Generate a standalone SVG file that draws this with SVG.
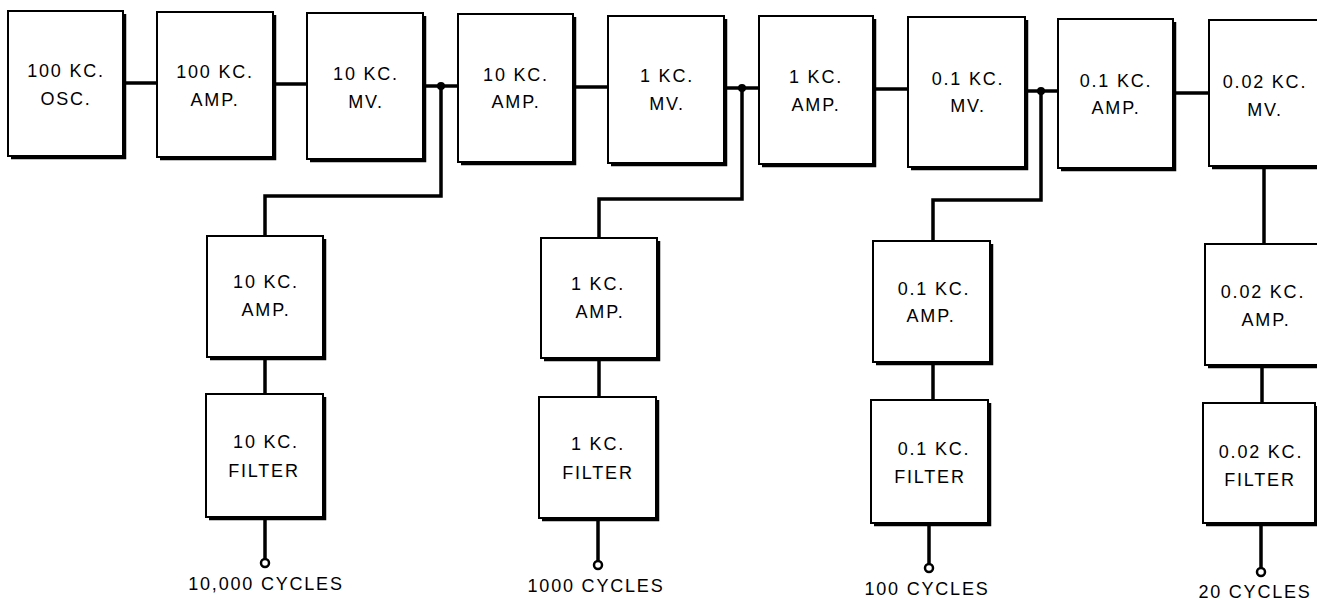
<svg xmlns="http://www.w3.org/2000/svg" width="1317" height="600" viewBox="0 0 1317 600">
<style>
.box{fill:#fff;stroke:#000;stroke-width:2}
.sh{fill:none;stroke:#000;stroke-width:3.5}
.t{font-family:"Liberation Sans",Arial,sans-serif;font-size:18px;letter-spacing:1.8px;text-anchor:middle;fill:#000}
.w{fill:none;stroke:#000;stroke-width:3.5;stroke-linejoin:miter}
.dot{fill:#000}
.term{fill:#fff;stroke:#000;stroke-width:2.5}
</style>
<rect width="1317" height="600" fill="#fff"/>
<g id="connectors">
<path class="w" d="M123 83H157"/>
<path class="w" d="M273 84H307"/>
<path class="w" d="M423 86H458"/>
<path class="w" d="M441 86V196H265V236"/>
<path class="w" d="M573 87H608"/>
<path class="w" d="M724 88H759"/>
<path class="w" d="M742 88V199H599V238"/>
<path class="w" d="M873 89H908"/>
<path class="w" d="M1025 91H1058"/>
<path class="w" d="M1041 91V200H933V241"/>
<path class="w" d="M1173 93H1209"/>
<path class="w" d="M1264 166V244"/>
<path class="w" d="M265 357V394"/>
<path class="w" d="M599 358V397"/>
<path class="w" d="M933 362V400"/>
<path class="w" d="M1262 365V403"/>
<path class="w" d="M265 517V559"/>
<path class="w" d="M598 518V561"/>
<path class="w" d="M929 523V564"/>
<path class="w" d="M1261 523V568"/>
<circle class="dot" cx="441" cy="86" r="4"/>
<circle class="dot" cx="742" cy="88" r="4"/>
<circle class="dot" cx="1041" cy="91" r="4"/>
<circle class="term" cx="265" cy="563" r="4"/>
<circle class="term" cx="598" cy="565" r="4"/>
<circle class="term" cx="929" cy="568" r="4"/>
<circle class="term" cx="1261" cy="572" r="4"/>
</g>
<g id="n1"><rect class="box" x="8" y="11" width="115" height="145"/><path class="sh" d="M11 157.5H124.5V14"/><text class="t" x="66" y="77">100 KC.</text><text class="t" x="66" y="105">OSC.</text></g>
<g id="n2"><rect class="box" x="157" y="12" width="116" height="145"/><path class="sh" d="M160 158.5H274.5V15"/><text class="t" x="215" y="78">100 KC.</text><text class="t" x="215" y="106">AMP.</text></g>
<g id="n3"><rect class="box" x="307" y="13" width="116" height="146"/><path class="sh" d="M310 160.5H424.5V16"/><text class="t" x="366" y="80">10 KC.</text><text class="t" x="366" y="108">MV.</text></g>
<g id="n4"><rect class="box" x="458" y="14" width="115" height="148"/><path class="sh" d="M461 163.5H574.5V17"/><text class="t" x="516" y="81">10 KC.</text><text class="t" x="516" y="108">AMP.</text></g>
<g id="n5"><rect class="box" x="608" y="16" width="116" height="147"/><path class="sh" d="M611 164.5H725.5V19"/><text class="t" x="667" y="82">1 KC.</text><text class="t" x="667" y="110">MV.</text></g>
<g id="n6"><rect class="box" x="759" y="16" width="114" height="148"/><path class="sh" d="M762 165.5H874.5V19"/><text class="t" x="816" y="83">1 KC.</text><text class="t" x="816" y="111">AMP.</text></g>
<g id="n7"><rect class="box" x="908" y="17" width="117" height="150"/><path class="sh" d="M911 168.5H1026.5V20"/><text class="t" x="968" y="85">0.1 KC.</text><text class="t" x="968" y="112">MV.</text></g>
<g id="n8"><rect class="box" x="1058" y="19" width="115" height="149"/><path class="sh" d="M1061 169.5H1174.5V22"/><text class="t" x="1116" y="87">0.1 KC.</text><text class="t" x="1116" y="114">AMP.</text></g>
<g id="n9"><rect class="box" x="1209" y="20" width="130" height="146"/><path class="sh" d="M1212 167.5H1330"/><text class="t" x="1265" y="88">0.02 KC.</text><text class="t" x="1265" y="116">MV.</text></g>
<g id="a1"><rect class="box" x="207" y="236" width="116" height="121"/><path class="sh" d="M210 358.5H324.5V239"/><text class="t" x="266" y="288">10 KC.</text><text class="t" x="266" y="316">AMP.</text></g>
<g id="f1"><rect class="box" x="206" y="394" width="117" height="123"/><path class="sh" d="M209 518.5H324.5V397"/><text class="t" x="266" y="448">10 KC.</text><text class="t" x="264" y="477">FILTER</text></g>
<g id="a2"><rect class="box" x="541" y="238" width="116" height="120"/><path class="sh" d="M544 359.5H658.5V241"/><text class="t" x="598" y="290">1 KC.</text><text class="t" x="600" y="318">AMP.</text></g>
<g id="f2"><rect class="box" x="539" y="397" width="117" height="121"/><path class="sh" d="M542 519.5H657.5V400"/><text class="t" x="598" y="450">1 KC.</text><text class="t" x="598" y="479">FILTER</text></g>
<g id="a3"><rect class="box" x="873" y="241" width="117" height="121"/><path class="sh" d="M876 363.5H991.5V244"/><text class="t" x="934" y="295">0.1 KC.</text><text class="t" x="931" y="322">AMP.</text></g>
<g id="f3"><rect class="box" x="871" y="400" width="117" height="123"/><path class="sh" d="M874 524.5H989.5V403"/><text class="t" x="934" y="455">0.1 KC.</text><text class="t" x="930" y="483">FILTER</text></g>
<g id="a4"><rect class="box" x="1205" y="244" width="130" height="121"/><path class="sh" d="M1208 366.5H1330"/><text class="t" x="1263" y="298">0.02 KC.</text><text class="t" x="1266" y="326">AMP.</text></g>
<g id="f4"><rect class="box" x="1203" y="403" width="112" height="120"/><path class="sh" d="M1206 524.5H1316.5V406"/><text class="t" x="1261" y="458">0.02 KC.</text><text class="t" x="1260" y="486">FILTER</text></g>
<g id="labels">
<text class="t" x="266" y="590">10,000 CYCLES</text>
<text class="t" x="596" y="592">1000 CYCLES</text>
<text class="t" x="927" y="595">100 CYCLES</text>
<text class="t" x="1255" y="598">20 CYCLES</text>
</g>
</svg>
